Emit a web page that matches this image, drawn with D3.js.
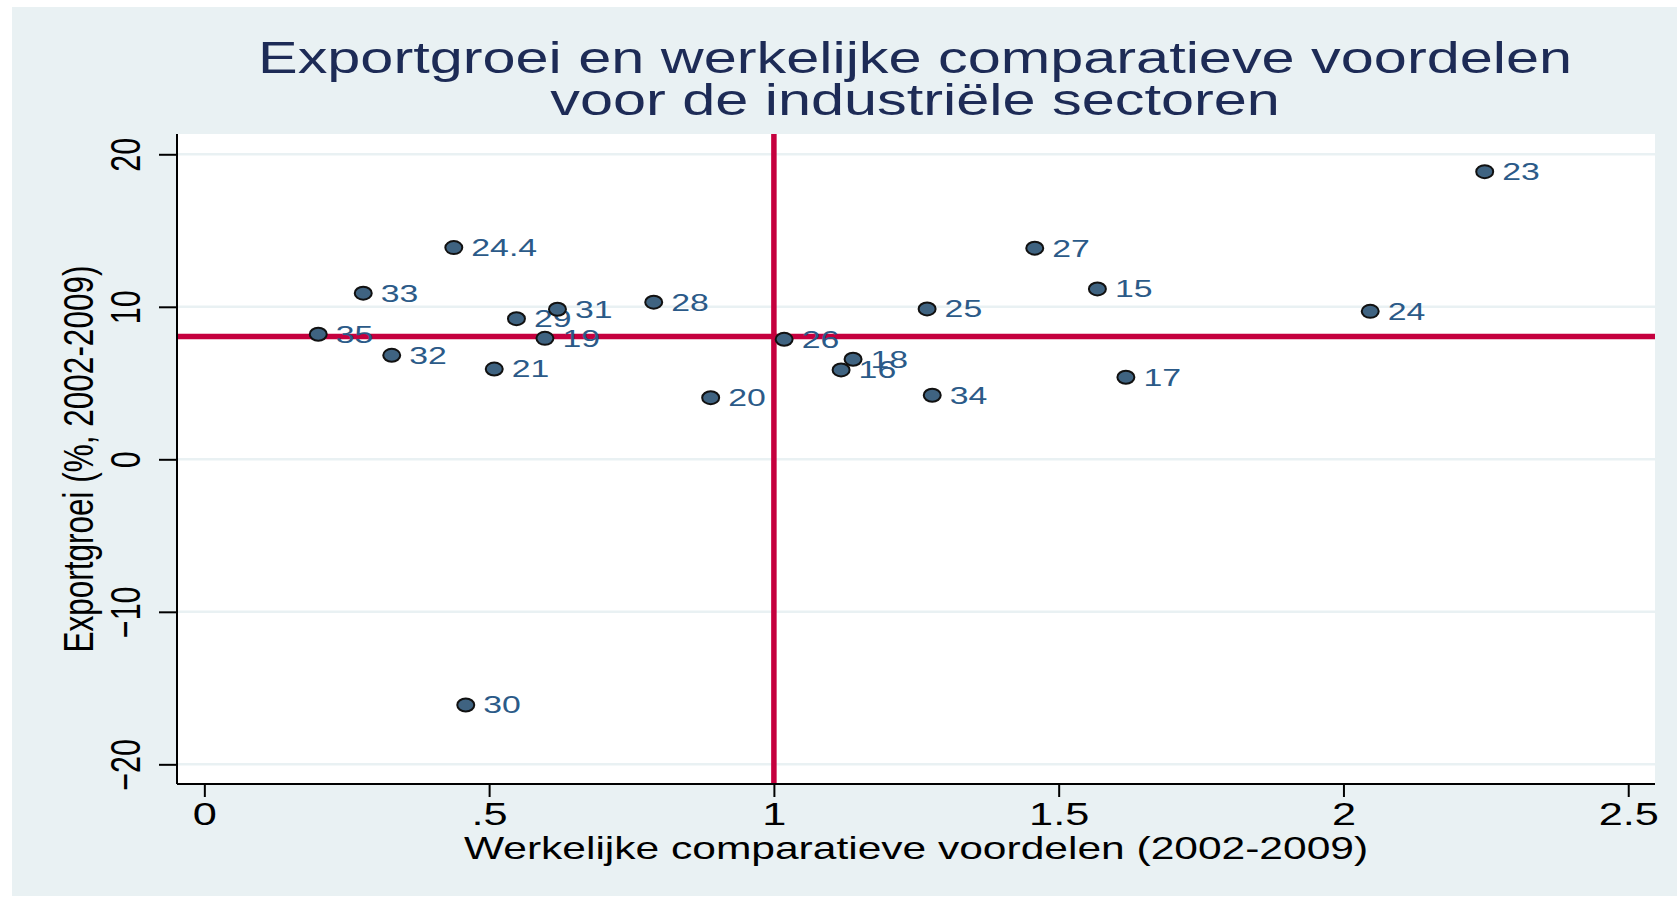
<!DOCTYPE html>
<html>
<head>
<meta charset="utf-8">
<script src="https://cdn.jsdelivr.net/npm/d3@7"></script>
<style>
  body { margin: 0; background: #fff; }
  svg text { font-family: "Liberation Sans", Arial, sans-serif; }
</style>
</head>
<body>
<svg width="1677" height="899"></svg>
<script>
// sector codes and their values
var sectors = ['24.4', '33', '35', '32', '29', '21', '30', '31', '19', '28', '20', '26', '18', '16', '25', '34', '27', '15', '24', '17', '23']
var rca = [0.438, 0.279, 0.200, 0.329, 0.548, 0.509, 0.459, 0.620, 0.598, 0.789, 0.889, 1.018, 1.139, 1.118, 1.269, 1.278, 1.458, 1.568, 2.047, 1.618, 2.248]
var growth = [13.88, 10.89, 8.20, 6.82, 9.22, 5.92, -16.11, 9.84, 7.93, 10.30, 4.04, 7.87, 6.56, 5.86, 9.86, 4.20, 13.84, 11.17, 9.70, 5.38, 18.86]

var xTicks = [0, 0.5, 1, 1.5, 2, 2.5]
var xTickLabels = ['0', '.5', '1', '1.5', '2', '2.5']
var yTicks = [-20, -10, 0, 10, 20]

var xRef = 1
var yRef = 8.05

var titleLines = ['Exportgroei en werkelijke comparatieve voordelen', 'voor de industriële sectoren']
var xTitle = 'Werkelijke comparatieve voordelen (2002-2009)'
var yTitle = 'Exportgroei (%, 2002-2009)'

// the original graph is stretched sideways, so text is widened too
var sxTitle = 1.35
var sxTick = 1.42
var sxLabel = 1.47

var bg = '#e9f1f3'
var red = '#c5003e'

var svg = d3.select('svg')

// plot area edges (window.top is read-only, so no plain "top")
var plotL = 177, plotR = 1655, plotT = 134, plotB = 784

var x = d3.scaleLinear().domain([-0.048, 2.547]).range([plotL, plotR])
var y = d3.scaleLinear().domain([-21.29, 21.33]).range([plotB, plotT])

svg.append('rect')
  .attr('x', 12).attr('y', 7)
  .attr('width', 1677 - 12).attr('height', 896 - 7)
  .attr('fill', bg)

svg.append('rect')
  .attr('x', plotL).attr('y', plotT)
  .attr('width', plotR - plotL).attr('height', plotB - plotT)
  .attr('fill', '#fff')

// grid
svg.append('g')
  .selectAll('line')
  .data(yTicks)
  .enter()
  .append('line')
  .attr('x1', plotL).attr('x2', plotR)
  .attr('y1', d => y(d)).attr('y2', d => y(d))
  .attr('stroke', bg)
  .attr('stroke-width', 2.5)

// reference lines
svg.append('line')
  .attr('x1', plotL).attr('x2', plotR)
  .attr('y1', y(yRef)).attr('y2', y(yRef))
  .attr('stroke', red).attr('stroke-width', 5.5)
svg.append('line')
  .attr('x1', x(xRef)).attr('x2', x(xRef))
  .attr('y1', plotT).attr('y2', plotB)
  .attr('stroke', red).attr('stroke-width', 5.5)

// x axis
var xAxis = svg.append('g')
  .attr('transform', 'translate(0,' + plotB + ')')
  .call(d3.axisBottom(x)
    .tickValues(xTicks)
    .tickSize(13)
    .tickSizeOuter(0)
    .tickFormat((d, i) => xTickLabels[i]))
xAxis.attr('font-family', null)
xAxis.select('.domain').attr('stroke', '#000').attr('stroke-width', 2)
  .attr('d', 'M' + plotL + ',0H' + plotR)
xAxis.selectAll('.tick line').attr('stroke', '#000').attr('stroke-width', 2)
xAxis.selectAll('.tick text')
  .attr('y', 0).attr('dy', 0)
  .attr('transform', 'translate(0,41) scale(' + sxTick + ',1)')
  .attr('font-size', 30.5)
  .attr('fill', '#000')

// y axis
var yAxis = svg.append('g')
  .attr('transform', 'translate(' + plotL + ',0)')
  .call(d3.axisLeft(y)
    .tickValues(yTicks)
    .tickSize(18)
    .tickSizeOuter(0))
yAxis.attr('font-family', null)
yAxis.select('.domain').attr('stroke', '#000').attr('stroke-width', 2)
  .attr('d', 'M0,' + plotT + 'V' + plotB)
yAxis.selectAll('.tick line').attr('stroke', '#000').attr('stroke-width', 2)
yAxis.selectAll('.tick text')
  .attr('x', 0).attr('dy', 0)
  .attr('text-anchor', 'middle')
  .attr('transform', 'translate(-37.5,0) rotate(-90) scale(1,' + sxTick + ')')
  .attr('font-size', 30.5)
  .attr('fill', '#000')

// titles
svg.append('g')
  .selectAll('text')
  .data(titleLines)
  .enter()
  .append('text')
  .attr('transform', (d, i) => 'translate(915,' + (73.3 + i * 41.8) + ') scale(' + sxTitle + ',1)')
  .attr('text-anchor', 'middle')
  .attr('font-size', 44)
  .attr('fill', '#1d2b56')
  .text(d => d)

svg.append('text')
  .attr('transform', 'translate(916,859) scale(' + sxTitle + ',1)')
  .attr('text-anchor', 'middle')
  .attr('font-size', 31.5)
  .attr('fill', '#000')
  .text(xTitle)

svg.append('text')
  .attr('transform', 'translate(93.3,459) rotate(-90) scale(1,' + sxTitle + ')')
  .attr('text-anchor', 'middle')
  .attr('font-size', 31.5)
  .attr('fill', '#000')
  .text(yTitle)

// points
var pts = svg.append('g')
  .selectAll('g')
  .data(sectors)
  .enter()
  .append('g')

pts.append('ellipse')
  .attr('cx', (d, i) => x(rca[i]))
  .attr('cy', (d, i) => y(growth[i]))
  .attr('rx', 8.5)
  .attr('ry', 6.5)
  .attr('fill', '#3f6381')
  .attr('stroke', '#111')
  .attr('stroke-width', 2)

pts.append('text')
  .attr('transform', (d, i) => 'translate(' + (x(rca[i]) + 17.5) + ',' + (y(growth[i]) + 8.3) + ') scale(' + sxLabel + ',1)')
  .attr('font-size', 23)
  .attr('fill', '#2b5a88')
  .text(d => d)
</script>
</body>
</html>
